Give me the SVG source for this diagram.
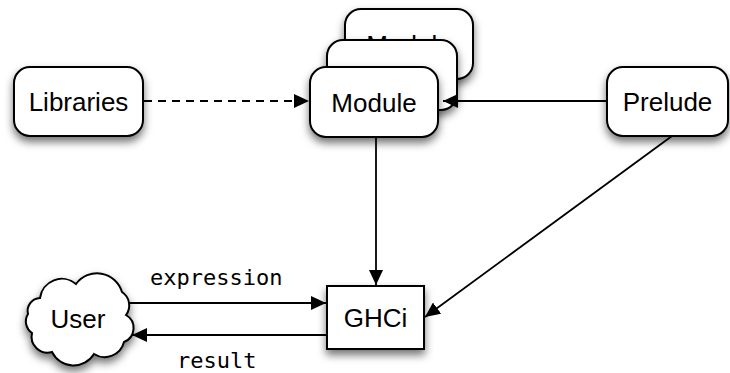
<svg xmlns="http://www.w3.org/2000/svg" width="730" height="373" viewBox="0 0 730 373">
<style>
.box{fill:#fff;stroke:#000;stroke-width:2;filter:url(#sh)}
.lbl{font-family:"Liberation Sans","Noto Sans",sans-serif;font-size:26px;fill:#000;text-anchor:middle}
.mono{font-family:"DejaVu Sans Mono","Liberation Mono",monospace;font-size:22px;fill:#000}
.con{stroke:#000;stroke-width:1.8;fill:none;marker-end:url(#ah)}
</style>
<defs>
<filter id="sh" x="-20%" y="-20%" width="140%" height="160%">
<feDropShadow dx="0" dy="5" stdDeviation="4" flood-color="#000" flood-opacity="0.55"/>
</filter>
<marker id="ah" markerUnits="userSpaceOnUse" markerWidth="16" markerHeight="14" refX="15" refY="7" orient="auto">
<path d="M0,0 L15,7 L0,14 Z" fill="#000"/>
</marker>
</defs>
<rect width="730" height="373" fill="#fff"/>
<g id="libraries">
<rect class="box" x="14" y="67" width="129" height="69" rx="16"/>
<text class="lbl" x="78.5" y="111">Libraries</text>
</g>
<g id="module-back2">
<rect class="box" x="345" y="9" width="128" height="70" rx="16"/>
<text class="lbl" x="409" y="54">Module</text>
</g>
<g id="module-back1">
<rect class="box" x="327" y="40" width="130" height="70" rx="16"/>
<text class="lbl" x="392" y="85">Module</text>
</g>
<g id="module">
<rect class="box" x="310" y="67" width="128" height="70" rx="16"/>
<text class="lbl" x="374" y="112">Module</text>
</g>
<g id="prelude">
<rect class="box" x="607" y="67" width="121" height="69" rx="16"/>
<text class="lbl" x="667.5" y="111">Prelude</text>
</g>
<g id="ghci">
<rect class="box" x="327" y="286" width="97" height="63"/>
<text class="lbl" x="375.5" y="327">GHCi</text>
</g>
<g id="user">
<path class="box" d="M40,298 A22 22 0 0 1 76,284 A26 26 0 0 1 122,292 A16 16 0 0 1 126,315 A15 15 0 0 1 124,342 A20 20 0 0 1 94,354 A24 24 0 0 1 52,352 A16 16 0 0 1 32,333 A14 14 0 0 1 28,314 A13 13 0 0 1 40,298 Z"/>
<text class="lbl" x="78" y="328">User</text>
</g>
<g id="connectors">
<line class="con" x1="144" y1="101" x2="309" y2="101" stroke-dasharray="8,6"/>
<line class="con" x1="607" y1="101" x2="443" y2="101"/>
<line class="con" x1="376" y1="137" x2="376" y2="285"/>
<line class="con" x1="672" y1="136" x2="425" y2="317"/>
<line class="con" x1="129" y1="303" x2="326" y2="303"/>
<line class="con" x1="327" y1="335" x2="132" y2="335"/>
<text class="mono" x="150" y="285">expression</text>
<text class="mono" x="177" y="368">result</text>
</g>
</svg>
